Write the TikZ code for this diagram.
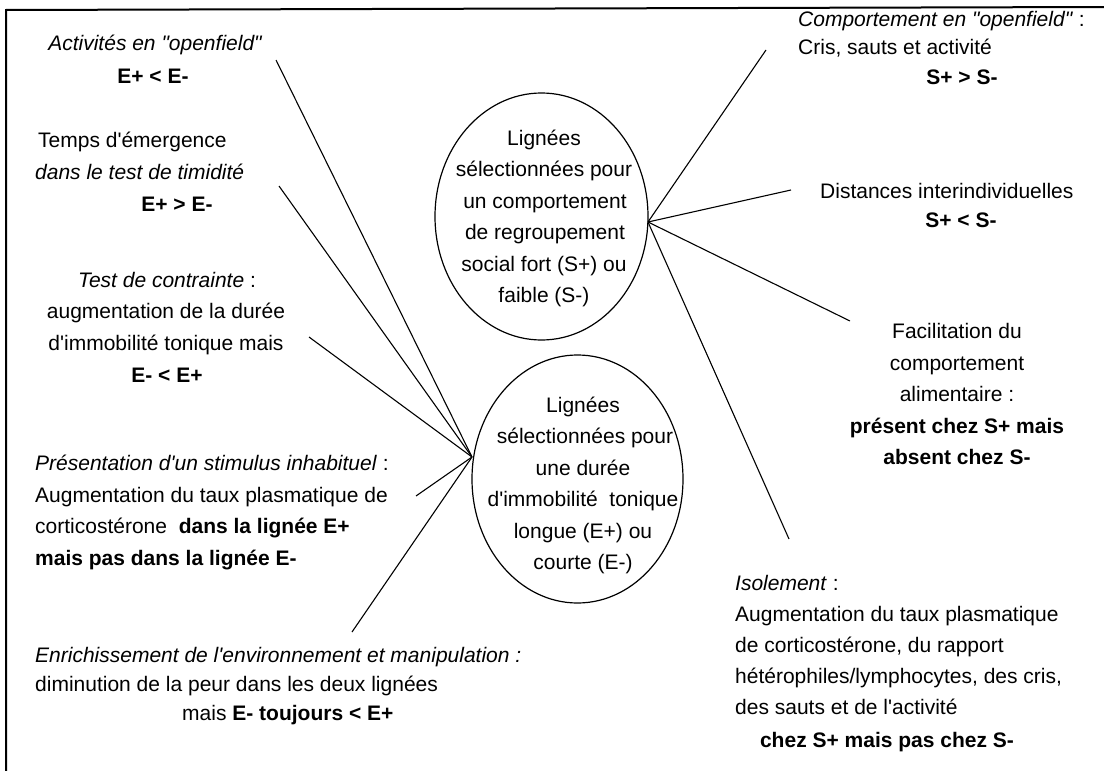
\documentclass[tikz,border=0pt]{standalone}
\usepackage{fontspec}
\usetikzlibrary{shapes.geometric}
\newfontfamily\hv{Liberation Sans}
\begin{document}
\begin{tikzpicture}[x=1pt,y=-1pt,
  T/.style={font=\hv\fontsize{21}{25}\selectfont, inner sep=0pt, anchor=base},
  TL/.style={T, anchor=base west},
  conn/.style={line width=1.1pt},
  oval/.style={draw, ellipse, line width=1.2pt, inner sep=0pt}]
\useasboundingbox (0,0) rectangle (1104,771);
% frame (only top and left edges visible)
\draw[line width=2pt] (6,771) -- (6,10) -- (1104,7);

% ovals
\node[oval, minimum width=213pt, minimum height=247pt] (S) at (541.5,216.5) {};
\node[oval, minimum width=211pt, minimum height=248pt] (E) at (577.5,479) {};

\node[T] (s1) at (544,145) {Lignées};
\node[T] (s2) at (544,176.5) {sélectionnées pour};
\node[T] (s3) at (545,208) {un comportement};
\node[T] (s4) at (545,239.5) {de regroupement};
\node[T] (s5) at (544,271) {social fort (S+) ou};
\node[T] (s6) at (544,302.5) {faible (S-)};

\node[T] (e1) at (583,412) {Lignées};
\node[T] (e2) at (585,443.5) {sélectionnées pour};
\node[T] (e3) at (583,475) {une durée};
\node[T] (e4) at (583,506.5) {d'immobilité~ tonique};
\node[T] (e5) at (583,538) {longue (E+) ou};
\node[T] (e6) at (583,569.5) {courte (E-)};

% hubs and connector ends
\coordinate (hubS) at (648,222);
\coordinate (hubE) at (472,457);
\coordinate (cR1) at (766,50);
\coordinate (cR2) at (791,190);
\coordinate (cR3) at (850,321);
\coordinate (cR4) at (789,539);
\coordinate (cL1) at (276,60);
\coordinate (cL2) at (279,186);
\coordinate (cL3) at (309,337);
\coordinate (cL4) at (416,496);
\coordinate (cL5) at (352,632);

\foreach \c in {cR1,cR2,cR3,cR4} \draw[conn] (hubS) -- (\c);
\foreach \c in {cL1,cL2,cL3,cL4,cL5} \draw[conn] (hubE) -- (\c);

% left texts
\node[T] (a1) at (155,50) {\itshape Activités en "openfield"};
\node[T] (a2) at (153,83) {\bfseries E+ < E-};

\node[TL] (b1) at (38,147) {Temps d'émergence};
\node[TL] (b2) at (35,179) {\itshape dans le test de timidité};
\node[T] (b3) at (177,211) {\bfseries E+ > E-};

\node[T] (c1) at (167,287) {\textit{Test de contrainte} :};
\node[T] (c2) at (166,318) {augmentation de la durée};
\node[T] (c3) at (166,350) {d'immobilité tonique mais};
\node[T] (c4) at (167,382) {\bfseries E- < E+};

\node[TL] (d1) at (35,470) {\textit{Présentation d'un stimulus inhabituel} :};
\node[TL] (d2) at (35,502) {Augmentation du taux plasmatique de};
\node[TL] (d3) at (35,533) {corticostérone~ \textbf{dans la lignée E+}};
\node[TL] (d4) at (35,565) {\bfseries mais pas dans la lignée E-};

\node[TL] (f1) at (35,662) {\itshape Enrichissement de l'environnement et manipulation :};
\node[TL] (f2) at (35,691) {diminution de la peur dans les deux lignées};
\node[TL] (f3) at (182,720) {mais \textbf{E- toujours < E+}};

% right texts
\node[TL] (g1) at (798,27) {\textit{Comportement en "openfield"} :};
\node[TL] (g2) at (798,54) {Cris, sauts et activité};
\node[T] (g3) at (962,84) {\bfseries S+ > S-};

\node[TL] (h1) at (820,198) {Distances interindividuelles};
\node[T] (h2) at (961,227) {\bfseries S+ < S-};

\node[T] (i1) at (957,338) {Facilitation du};
\node[T] (i2) at (957,370) {comportement};
\node[T] (i3) at (957,401) {alimentaire :};
\node[T] (i4) at (957,433) {\bfseries présent chez S+ mais};
\node[T] (i5) at (957,464) {\bfseries absent chez S-};

\node[TL] (j1) at (735,590) {\textit{Isolement} :};
\node[TL] (j2) at (735,621) {Augmentation du taux plasmatique};
\node[TL] (j3) at (735,652) {de corticostérone, du rapport};
\node[TL] (j4) at (735,683) {hétérophiles/lymphocytes, des cris,};
\node[TL] (j5) at (735,714) {des sauts et de l'activité};
\node[T] (j6) at (887,747) {\bfseries chez S+ mais pas chez S-};
\end{tikzpicture}
\end{document}
